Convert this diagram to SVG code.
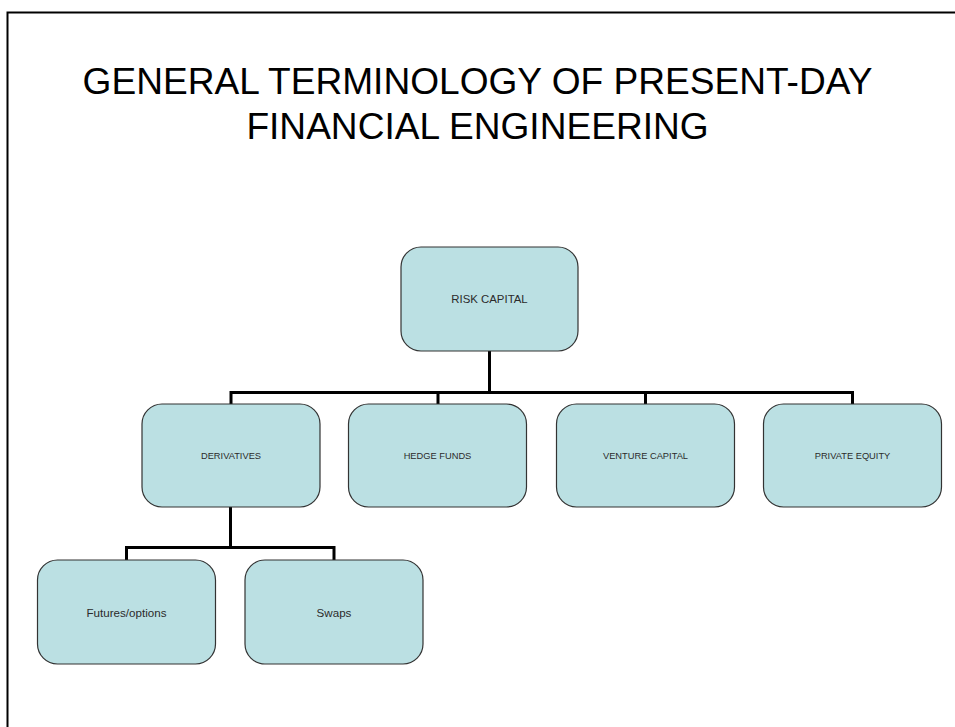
<svg xmlns="http://www.w3.org/2000/svg" width="955" height="727" viewBox="0 0 955 727">
<style>
.box{fill:#bbe0e3;stroke:#333;stroke-width:1.2}
.lbl{font-family:"Liberation Sans",Arial,sans-serif;fill:#2b2b2b;text-anchor:middle}
.title{font-family:"Liberation Sans",Arial,sans-serif;font-size:37.1px;fill:#000;text-anchor:middle}
.conn{fill:none;stroke:#000;stroke-width:3}
</style>
<rect width="955" height="727" fill="#fff"/>
<path d="M7.5,727 V12.5 H955" fill="none" stroke="#000" stroke-width="2"/>
<text class="title" x="477.5" y="94">GENERAL TERMINOLOGY OF PRESENT-DAY</text>
<text class="title" x="477.5" y="139">FINANCIAL ENGINEERING</text>
<g id="connectors">
<path class="conn" d="M489.5,351 V392.5 M231,404 V392.5 H852.5 V404 M438,392.5 V404 M645.5,392.5 V404"/>
<path class="conn" d="M230.5,507 V547.5 M126.5,560 V547.5 H334 V560"/>
</g>
<g id="risk-capital"><rect class="box" x="401" y="247" width="177" height="104" rx="20"/><text class="lbl" x="489.5" y="303" font-size="11.4">RISK CAPITAL</text></g>
<g id="derivatives"><rect class="box" x="142" y="404" width="178" height="103" rx="20"/><text class="lbl" x="231" y="459" font-size="9.3">DERIVATIVES</text></g>
<g id="hedge-funds"><rect class="box" x="348.5" y="404" width="178" height="103" rx="20"/><text class="lbl" x="437.5" y="459" font-size="9.3">HEDGE FUNDS</text></g>
<g id="venture-capital"><rect class="box" x="556.5" y="404" width="178" height="103" rx="20"/><text class="lbl" x="645.5" y="459" font-size="9.3">VENTURE CAPITAL</text></g>
<g id="private-equity"><rect class="box" x="763.5" y="404" width="178" height="103" rx="20"/><text class="lbl" x="852.5" y="459" font-size="9.3">PRIVATE EQUITY</text></g>
<g id="futures-options"><rect class="box" x="37.5" y="560" width="178" height="104" rx="20"/><text class="lbl" x="126.5" y="616.5" font-size="11.6">Futures/options</text></g>
<g id="swaps"><rect class="box" x="245" y="560" width="178" height="104" rx="20"/><text class="lbl" x="334" y="616.5" font-size="11.6">Swaps</text></g>
</svg>
